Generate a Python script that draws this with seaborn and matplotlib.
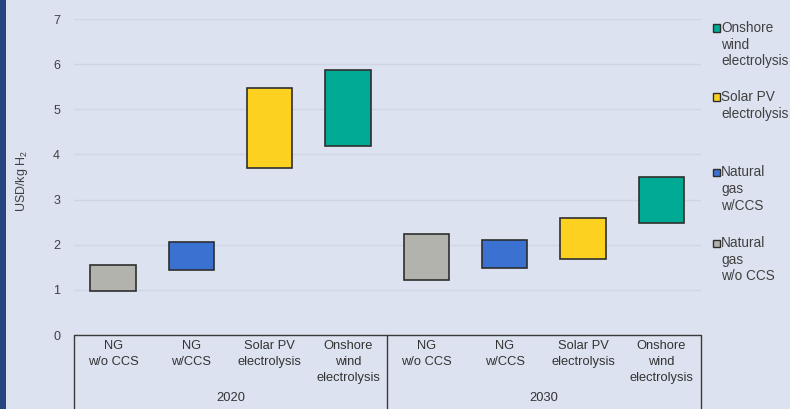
import matplotlib
matplotlib.use("Agg")
import matplotlib.pyplot as plt
import matplotlib.transforms as mtransforms
from matplotlib.patches import Rectangle
import numpy as np
import pandas as pd
import seaborn as sns

# Hydrogen production cost ranges (USD/kg H2)
years = ["2020", "2030"]
tech_labels = ["NG\nw/o CCS", "NG\nw/CCS", "Solar PV\nelectrolysis", "Onshore\nwind\nelectrolysis"]
tech_keys = ["ng", "ngccs", "solar", "wind"]
low_2020 = [0.97, 1.43, 3.70, 4.18]
high_2020 = [1.55, 2.06, 5.48, 5.86]
low_2030 = [1.21, 1.48, 1.68, 2.48]
high_2030 = [2.24, 2.11, 2.59, 3.50]

legend_labels = {
    "wind": "Onshore\nwind\nelectrolysis",
    "solar": "Solar PV\nelectrolysis",
    "ngccs": "Natural\ngas\nw/CCS",
    "ng": "Natural\ngas\nw/o CCS",
}
legend_order = ["wind", "solar", "ngccs", "ng"]
legend_top_px = [28, 97, 172, 243]

colors = {"ng": "#b3b3ae", "ngccs": "#3b72d2", "solar": "#fdd11f", "wind": "#00aa94"}

BG = "#dce2f0"
W, H = 790, 409

sns.set_style("white", {"axes.facecolor": BG, "figure.facecolor": BG})
plt.rcParams["font.family"] = ["Liberation Sans", "DejaVu Sans"]
plt.rcParams["mathtext.default"] = "regular"

low = low_2020 + low_2030
high = high_2020 + high_2030
df = pd.DataFrame({
    "key": [f"{y}|{t}" for y in years for t in tech_keys],
    "tech": tech_keys * 2,
    "low": low,
    "span": np.array(high) - np.array(low),
})

fig = plt.figure(figsize=(W / 100, H / 100), dpi=100)
fig.patch.set_facecolor(BG)
ax = fig.add_axes([74 / W, 1 - 335 / H, (700.5 - 74) / W, (335 - 19) / H])
ax.set_facecolor(BG)

sns.barplot(data=df, x="key", y="span", hue="tech", palette=colors, dodge=False,
            order=list(df["key"]), hue_order=tech_keys, errorbar=None, legend=False,
            saturation=1, width=0.58, edgecolor="#2e2e2e", linewidth=1.2, ax=ax, zorder=3)

# lift each bar so it floats from its low value to its high value
for p in ax.patches:
    idx = int(round(p.get_x() + p.get_width() / 2))
    p.set_y(df["low"].iloc[idx])

ax.set_xlim(-0.5, 7.5)
ax.set_ylim(0, 7)
ax.set_yticks(range(8))
ax.tick_params(axis="y", length=0, pad=10, labelsize=9, labelcolor="#404040")
ax.set_xticks([])
ax.set_xlabel("")
ax.set_ylabel("")
ax.yaxis.grid(True, color="#cfd5e5", linewidth=1.0, zorder=0)
ax.xaxis.grid(False)
for s in ax.spines.values():
    s.set_visible(False)

fig.text(22 / W, 1 - 181 / H, "USD/kg H$_2$", rotation=90, ha="center", va="center",
         fontsize=9, color="#404040")

# category table under the axis
tr = mtransforms.blended_transform_factory(ax.transData, fig.transFigure)
line_kw = dict(color="#3a3a3a", linewidth=1.0, clip_on=False, transform=tr)
ax.plot([-0.5, 7.5], [1 - 335 / H, 1 - 335 / H], **line_kw)
for xv in [-0.5, 3.5, 7.5]:
    ax.plot([xv, xv], [1 - 335 / H, 0], **line_kw)
for i, key in enumerate(df["key"]):
    ax.text(i, 1 - 340 / H, tech_labels[i % 4], transform=tr, ha="center", va="top",
            fontsize=9.3, color="#333333", linespacing=1.45)
for j, y in enumerate(years):
    ax.text(1.5 + 4 * j, 1 - 398 / H, y, transform=tr, ha="center", va="center",
            fontsize=9.3, color="#333333")

# legend on the right
for key, top in zip(legend_order, legend_top_px):
    fig.patches.append(Rectangle((713 / W, 1 - (top + 3.5) / H), 7 / W, 7 / H,
                                 transform=fig.transFigure, facecolor=colors[key],
                                 edgecolor="#2e2e2e", linewidth=1.0))
    fig.text(721 / W, 1 - (top - 7) / H, legend_labels[key], ha="left", va="top",
             fontsize=9.8, color="#404040", linespacing=1.25)

# dark band along the left edge
fig.patches.append(Rectangle((0, 0), 6 / W, 1, transform=fig.transFigure,
                             facecolor="#24457f", edgecolor="none"))

fig.savefig("out.png", dpi=100, facecolor=BG)
